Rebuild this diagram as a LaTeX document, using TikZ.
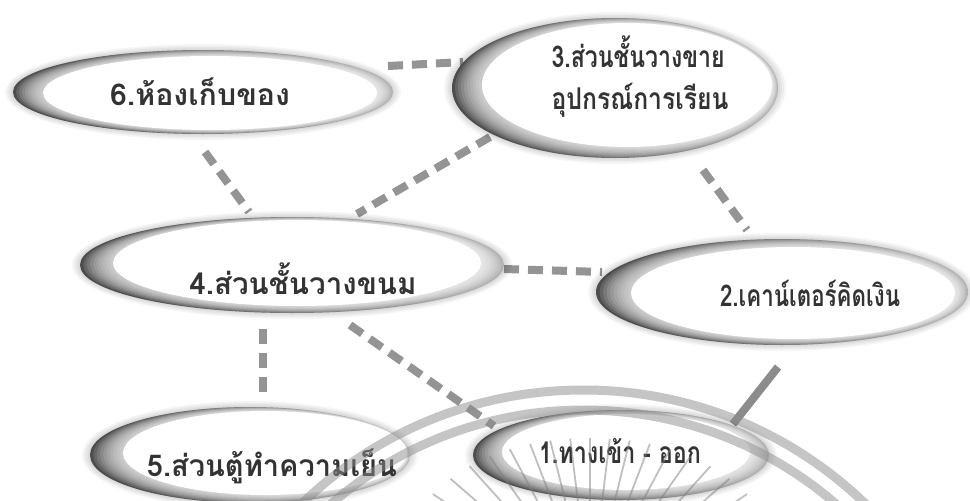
\documentclass[tikz,border=0pt]{standalone}
\usepackage{fontspec}
\usepackage{graphicx}
\newfontfamily\thaifont[Script=Thai]{Loma}
% outer cx, cy, rx, ry, inner cx, cy, rx, ry
\newcommand\mybubble[8]{%
  \foreach \k in {1,...,4} {
    \fill[black,opacity=.035] (#1,#2) ellipse [x radius=#3+2*\k, y radius=#4+1.5*\k];
  }
  \shade[left color=black!80, right color=black!35, shading angle=110] (#1,#2) ellipse [x radius=#3, y radius=#4];
  \foreach \k in {0,...,9} {
    \pgfmathsetmacro\tt{\k/10}
    \fill[white,opacity=.13] ({#1+(#5-#1)*\tt},{#2+(#6-#2)*\tt}) ellipse [x radius={#3+(#7-#3)*\tt}, y radius={#4+(#8-#4)*\tt}];
  }
  \fill[white] (#5,#6) ellipse [x radius=#7, y radius=#8];
}
\begin{document}
\begin{tikzpicture}[x=1pt,y=-1pt,
  conn/.style={line width=8pt, draw=black!42, dash pattern=on 15pt off 9pt},
  solidconn/.style={line width=8pt, draw=black!45},
  lbl/.style={inner sep=0pt, anchor=base, text=black!80, font=\thaifont\bfseries\fontsize{30}{34}\selectfont},
  seal/.style={draw=black!45, line width=9pt, draw opacity=.5},
  ray/.style={draw=black!50, line width=1.8pt, draw opacity=.5}]
\useasboundingbox (0,0) rectangle (970,501);
\fill[white] (0,0) rectangle (970,501);
\clip (0,0) rectangle (970,501);

% connector end points
\coordinate (c6r) at (388,66);  \coordinate (c3l) at (463,62);
\coordinate (c6b) at (205,152); \coordinate (c4t) at (249,212);
\coordinate (c3b) at (490,137); \coordinate (c4u) at (357,214);
\coordinate (c3d) at (703,170); \coordinate (c2t) at (747,230);
\coordinate (c4r) at (504,269); \coordinate (c2l) at (602,272);
\coordinate (c4d) at (263,329); \coordinate (c5t) at (263,397);
\coordinate (c4e) at (350,325); \coordinate (c1l) at (494,426);
\coordinate (c2b) at (778,367); \coordinate (c1r) at (733,424);

\draw[conn] (c6r) -- (c3l);
\draw[conn] (c6b) -- (c4t);
\draw[conn] (c3b) -- (c4u);
\draw[conn] (c3d) -- (c2t);
\draw[conn] (c4r) -- (c2l);
\draw[conn] (c4d) -- (c5t);
\draw[conn] (c4e) -- (c1l);
\draw[solidconn] (c2b) -- (c1r);

% bubbles
\mybubble{203}{92}{190}{42}{210}{93}{167}{37}
\mybubble{615}{88}{163}{70}{627}{85}{145}{62}
\mybubble{292}{265}{212}{48}{297}{263}{184}{43}
\mybubble{782}{292}{186}{53}{793}{293}{162}{46}
\mybubble{250}{455}{160}{48}{265}{453}{142}{42}
\mybubble{621}{455}{148}{45}{626}{452}{124}{38}

% labels
\node[lbl] (t6) at (200,105) {\resizebox{180pt}{\height}{6.ห้องเก็บของ}};
\node[lbl] (t3a) at (638,67) {\resizebox{173pt}{\height}{3.ส่วนชั้นวางขาย}};
\node[lbl] (t3b) at (640,109) {\resizebox{177pt}{\height}{อุปกรณ์การเรียน}};
\node[lbl] (t4) at (303,294) {\resizebox{227pt}{\height}{4.ส่วนชั้นวางขนม}};
\node[lbl] (t2) at (810,306) {\resizebox{180pt}{\height}{2.เคาน์เตอร์คิดเงิน}};
\node[lbl] (t5) at (272,476) {\resizebox{250pt}{\height}{5.ส่วนตู้ทำความเย็น}};
\node[lbl] (t1) at (620,463) {\resizebox{162pt}{\height}{1.ทางเข้า - ออก}};

% watermark seal
\draw[seal] (583.5,796) circle [radius=406pt];
\draw[seal] (583.5,796) circle [radius=386pt];
\foreach \a in {27,34,...,153} {
  \pgfmathsetmacro\rs{162+40*cos(\a)*cos(\a)}
  \draw[ray, shift={(590,600)}] (-\a:\rs) -- (-\a:60);
}
\end{tikzpicture}
\end{document}
